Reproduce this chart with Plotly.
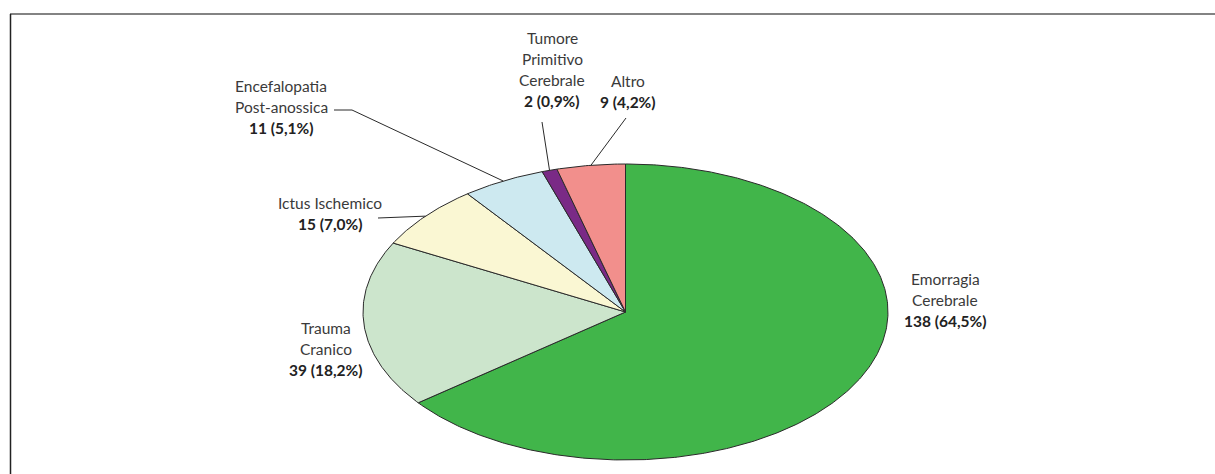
import numpy as np
import plotly.graph_objects as go

# Diagnosis categories, clockwise from 12 o'clock
categories = ["Emorragia Cerebrale", "Trauma Cranico", "Ictus Ischemico",
              "Encefalopatia Post-anossica", "Tumore Primitivo Cerebrale", "Altro"]
label_lines = [["Emorragia", "Cerebrale"], ["Trauma", "Cranico"], ["Ictus Ischemico"],
               ["Encefalopatia", "Post-anossica"], ["Tumore", "Primitivo", "Cerebrale"], ["Altro"]]
counts = [138, 39, 15, 11, 2, 9]
colors = ["#41b54a", "#cce5cc", "#faf7d3", "#cde9f0", "#7a2a86", "#f28f8c"]

# label block anchor (centre x, y of first line) and leader start point (None = no leader)
label_pos = [(945, 279), (326, 328), (330, 203), (281, 86), (552, 38), (628, 81)]
leader_start = [None, None, (378, 218), (334, 110), (542, 122), (626, 118)]
leader_knee = [None, None, None, (352, 110), None, None]

W, H = 1215, 474
cx, cy, rx, ry = 625.5, 312.0, 262.5, 148.0
LINE_H = 21

total = sum(counts)
fig = go.Figure()


def ellipse_pt(t):
    return cx + rx * np.sin(t), cy - ry * np.cos(t)


cum = 0
for i, (name, n) in enumerate(zip(categories, counts)):
    t0 = 2 * np.pi * cum / total
    t1 = 2 * np.pi * (cum + n) / total
    ts = np.linspace(t0, t1, max(8, int(n * 3)))
    ex, ey = ellipse_pt(ts)
    xs = np.concatenate([[cx], ex, [cx]])
    ys = np.concatenate([[cy], ey, [cy]])
    pct = 100 * n / total
    fig.add_trace(go.Scatter(
        x=xs, y=ys, mode="lines", fill="toself", fillcolor=colors[i],
        line=dict(color="#2a2a2a", width=1), name=name,
        hoverinfo="text", text=f"{name}: {n} ({pct:.1f}%)".replace(".", ","),
        showlegend=False))

    # labels
    lx, ly = label_pos[i]
    lines = label_lines[i] + [f"<b>{n} ({pct:.1f}%)</b>".replace(".", ",")]
    for k, s in enumerate(lines):
        bold = k == len(lines) - 1
        fig.add_annotation(x=lx, y=ly + k * LINE_H, text=s, showarrow=False,
                           xanchor="center", yanchor="middle",
                           font=dict(family="Lato", size=15.5,
                                     color="#222222" if bold else "#3a3a3a"))

    # leader line to the middle of the slice rim
    if leader_start[i] is not None:
        mx, my = ellipse_pt(2 * np.pi * (cum + n / 2) / total)
        pts = [leader_start[i]]
        if leader_knee[i] is not None:
            pts.append(leader_knee[i])
        pts.append((mx, my))
        fig.add_trace(go.Scatter(x=[p[0] for p in pts], y=[p[1] for p in pts],
                                 mode="lines", line=dict(color="#2a2a2a", width=1),
                                 hoverinfo="skip", showlegend=False))
    cum += n

# frame: top rule and left rule
fig.add_shape(type="line", x0=10, x1=W, y0=14, y1=14, line=dict(color="#5a5a5a", width=1.5))
fig.add_shape(type="line", x0=10.5, x1=10.5, y0=14, y1=H, line=dict(color="#222222", width=1.5))

fig.update_layout(
    width=W, height=H, margin=dict(l=0, r=0, t=0, b=0),
    paper_bgcolor="white", plot_bgcolor="white",
    xaxis=dict(range=[0, W], visible=False, fixedrange=True),
    yaxis=dict(range=[H, 0], visible=False, fixedrange=True),
)

fig.write_html("out.html")
